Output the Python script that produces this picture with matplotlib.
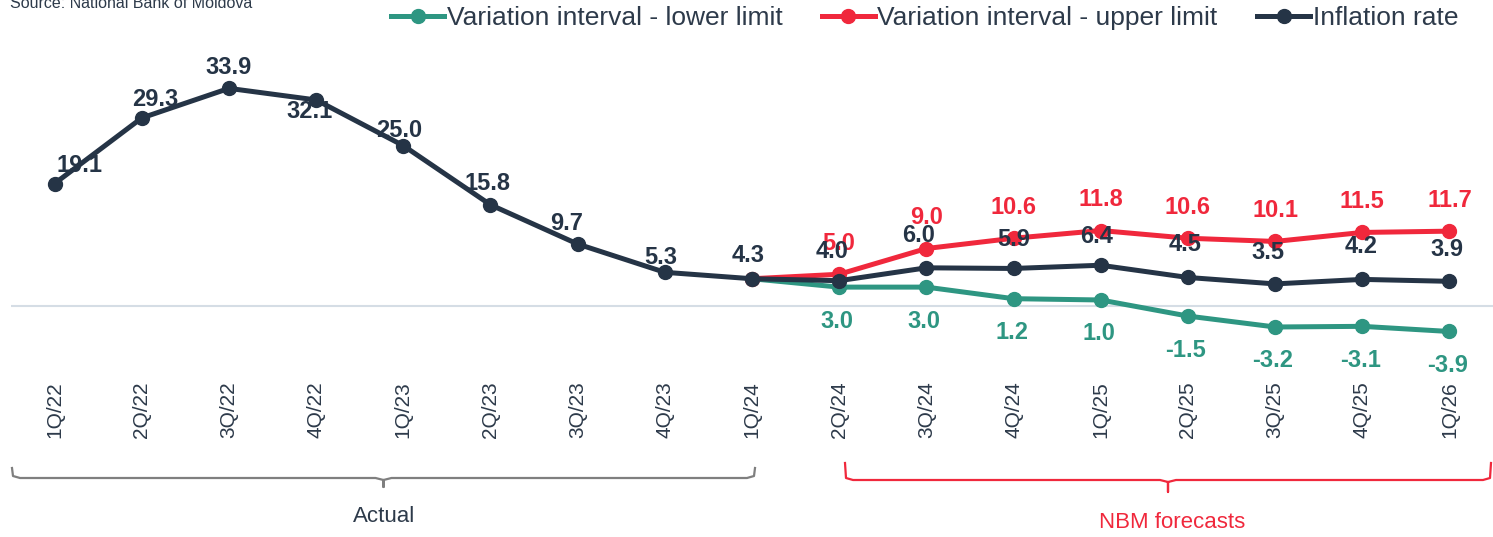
import matplotlib.pyplot as plt
from matplotlib.lines import Line2D

quarters = ["1Q/22", "2Q/22", "3Q/22", "4Q/22", "1Q/23", "2Q/23", "3Q/23", "4Q/23",
            "1Q/24", "2Q/24", "3Q/24", "4Q/24", "1Q/25", "2Q/25", "3Q/25", "4Q/25", "1Q/26"]
inflation = [19.1, 29.3, 33.9, 32.1, 25.0, 15.8, 9.7, 5.3, 4.3, 4.0, 6.0, 5.9, 6.4, 4.5, 3.5, 4.2, 3.9]
# variation interval starts at 1Q/24
upper = [4.3, 5.0, 9.0, 10.6, 11.8, 10.6, 10.1, 11.5, 11.7]
lower = [4.3, 3.0, 3.0, 1.2, 1.0, -1.5, -3.2, -3.1, -3.9]
start = 8

NAVY = "#253446"
RED = "#f0283c"
TEAL = "#2e9682"
TXT = "#2d3a4a"

plt.rcParams["font.family"] = ["Liberation Sans", "DejaVu Sans"]

fig = plt.figure(figsize=(14.93, 5.37), dpi=100)
ax = fig.add_axes([11 / 1493, 1 - 345 / 537, 1482 / 1493, (345 - 62) / 537])

x = list(range(len(quarters)))
xf = x[start:]

ax.axhline(0, color="#d5dde5", lw=1.5, zorder=1)
ax.plot(xf, lower, color=TEAL, lw=3.6, marker="o", ms=10, zorder=2,
        label="Variation interval - lower limit")
ax.plot(xf, upper, color=RED, lw=3.6, marker="o", ms=10, zorder=3,
        label="Variation interval - upper limit")
ax.plot(x, inflation, color=NAVY, lw=3.6, marker="o", ms=10, zorder=4,
        label="Inflation rate")

# label offsets in pixels (dx, dy up)
infl_off = [(25, 18), (13, 18), (0, 21), (-7, -12), (-4, 15), (-3, 21), (-11, 21), (-4, 15),
            (-4, 23), (-7, 29), (-8, 32), (0, 29), (-4, 29), (-3, 33), (-7, 31), (-1, 33), (-2, 32)]
k = 0.72
for i, v in enumerate(inflation):
    dx, dy = infl_off[i]
    ax.annotate(f"{v:.1f}", (x[i], v), xytext=(dx * k, dy * k), textcoords="offset points",
                ha="center", va="center", fontsize=17, fontweight="bold", color=NAVY, zorder=6)
for i, v in enumerate(upper[1:], start=1):
    ax.annotate(f"{v:.1f}", (xf[i], v), xytext=(0, 31 * k), textcoords="offset points",
                ha="center", va="center", fontsize=17, fontweight="bold", color=RED, zorder=5)
for i, v in enumerate(lower[1:], start=1):
    ax.annotate(f"{v:.1f}", (xf[i], v), xytext=(-2 * k, -34 * k), textcoords="offset points",
                ha="center", va="center", fontsize=17, fontweight="bold", color=TEAL, zorder=5)

ax.set_xlim(-0.5, 16.5)
ax.set_ylim(-6, 38)
ax.set_yticks([])
ax.set_xticks(x)
ax.set_xticklabels(quarters, rotation=90, fontsize=15, color=TXT)
ax.tick_params(axis="x", length=0, pad=26)
for s in ax.spines.values():
    s.set_visible(False)

handles = [Line2D([], [], color=c, lw=3.6, marker="o", ms=10) for c in (TEAL, RED, NAVY)]
fig.legend(handles, ["Variation interval - lower limit", "Variation interval - upper limit", "Inflation rate"],
           loc="center right", bbox_to_anchor=(1482 / 1493, 1 - 18 / 537), ncol=3, frameon=False,
           fontsize=19, labelcolor=TXT, handlelength=2.0, handletextpad=0.1, columnspacing=1.5)

fig.text(10 / 1493, 1 - 3 / 537, "Source: National Bank of Moldova", fontsize=11.5,
         color=TXT, ha="left", va="center")

# brackets below the axis, drawn on an overlay in pixel coordinates
ov = fig.add_axes([0, 0, 1, 1])
ov.set_xlim(0, 1493)
ov.set_ylim(537, 0)
ov.axis("off")


def bracket(x0, x1, ytop, yline, ytip, color):
    xm = (x0 + x1) / 2
    r = 8
    xs = [x0, x0 + 1, x0 + r, xm - r, xm, xm, xm, xm + r, x1 - r, x1 - 1, x1]
    ys = [ytop, yline - 2, yline, yline, yline + 2, ytip, yline + 2, yline, yline, yline - 2, ytop]
    ov.plot(xs, ys, color=color, lw=1.6, solid_joinstyle="round")


bracket(12, 755, 468, 478, 487, "#7f7f7f")
bracket(845, 1491, 463, 480, 492, RED)
ov.text(384, 516, "Actual", ha="center", va="center", fontsize=16, color=TXT)
ov.text(1172, 523, "NBM forecasts", ha="center", va="center", fontsize=16, color=RED)

fig.savefig("out.png", dpi=100)
